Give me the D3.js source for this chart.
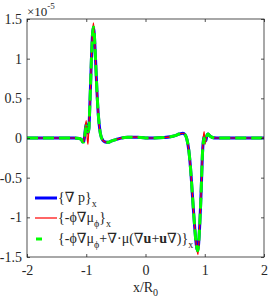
<!DOCTYPE html>
<html>
<head>
<meta charset="utf-8">
<script src="https://cdn.jsdelivr.net/npm/d3@7"></script>
<style>
  body { margin: 0; background: #fff; }
  svg text { font-family: "Liberation Serif", "Times New Roman", Times, "DejaVu Serif", serif !important; fill: #262626; }
</style>
</head>
<body>
<div id="chart"></div>
<script>
// x positions (x/R0)
const xs = [-2, -1.5, -1.2, -1.12, -1.08, -1.06, -1.04, -1.02, -1.0, -0.985, -0.97, -0.955, -0.94, -0.925,
  -0.91, -0.895, -0.88, -0.865, -0.85, -0.835, -0.82, -0.8, -0.78, -0.76, -0.72, -0.68, -0.63, -0.58,
  -0.5, -0.43, -0.3, -0.15, 0, 0.15, 0.3, 0.42, 0.5, 0.57, 0.63, 0.67, 0.7, 0.73, 0.76, 0.79, 0.81,
  0.83, 0.85, 0.87, 0.885, 0.9, 0.915, 0.93, 0.945, 0.96, 0.975, 0.99, 1.005, 1.02, 1.04, 1.06, 1.08,
  1.12, 1.2, 1.5, 2];
// values in units of 1e-5
const gradP = [0, 0, 0, -0.005, -0.02, -0.05, -0.04, 0.08, 0.18, 0.1, 0.06, 0.12, 0.4, 0.72,
  1.05, 1.3, 1.4, 1.32, 1.1, 0.85, 0.6, 0.33, 0.16, 0.05, -0.03, -0.05, -0.055, -0.04,
  -0.02, -0.005, 0.01, 0.01, 0, 0, 0.005, 0.015, 0.03, 0.05, 0.06, 0.04, -0.02, -0.15, -0.38, -0.7, -0.92,
  -1.12, -1.3, -1.4, -1.42, -1.3, -1.1, -0.85, -0.55, -0.22, -0.04, 0.02, -0.04, -0.03, 0.04, 0.05, 0.03,
  0.01, 0, 0, 0];
const phiGradMu = [0, 0, 0, -0.005, -0.02, -0.05, -0.03, 0.12, 0.22, 0.0, -0.08, 0.15, 0.4, 0.72,
  1.05, 1.32, 1.45, 1.34, 1.1, 0.85, 0.6, 0.33, 0.16, 0.05, -0.03, -0.05, -0.055, -0.04,
  -0.02, -0.005, 0.01, 0.01, 0, 0, 0.005, 0.015, 0.03, 0.05, 0.06, 0.04, -0.02, -0.15, -0.38, -0.7, -0.92,
  -1.12, -1.3, -1.42, -1.47, -1.32, -1.1, -0.85, -0.55, -0.22, 0.0, 0.08, -0.08, -0.02, 0.04, 0.05, 0.03,
  0.01, 0, 0, 0];
const phiGradMuVisc = [0, 0, 0, -0.005, -0.02, -0.05, -0.05, 0.06, 0.15, 0.1, 0.08, 0.12, 0.4, 0.72,
  1.05, 1.3, 1.4, 1.32, 1.1, 0.85, 0.6, 0.33, 0.16, 0.05, -0.03, -0.05, -0.055, -0.04,
  -0.02, -0.005, 0.01, 0.01, 0, 0, 0.005, 0.015, 0.03, 0.05, 0.06, 0.04, -0.02, -0.15, -0.38, -0.7, -0.92,
  -1.12, -1.3, -1.4, -1.42, -1.3, -1.1, -0.85, -0.55, -0.22, -0.06, 0.0, -0.05, -0.03, 0.04, 0.05, 0.03,
  0.01, 0, 0, 0];
const xTicks = [-2, -1, 0, 1, 2];
const yTicks = [-1.5, -1, -0.5, 0, 0.5, 1, 1.5];

const W = 269, H = 300;
const margin = { top: 19, right: 5, bottom: 43, left: 27 };
const width = W - margin.left - margin.right;
const height = H - margin.top - margin.bottom;
const axisColor = "#262626";
const serif = "Liberation Serif, Times New Roman, serif";
const fs = 14;

const svg = d3.select("#chart").append("svg")
  .attr("width", W)
  .attr("height", H)
  .attr("font-family", serif);
const g = svg.append("g")
  .attr("transform", "translate(" + margin.left + "," + margin.top + ")");

const x = d3.scaleLinear().domain([-2, 2]).range([0, width]);
const y = d3.scaleLinear().domain([-1.5, 1.5]).range([height, 0]);

// lines
const line = (vals) => d3.line()
  .x((d, i) => x(xs[i]))
  .y(d => y(d))
  .curve(d3.curveMonotoneX)(vals);

const plot = g.append("g");
plot.append("path").attr("d", line(gradP))
  .attr("fill", "none").attr("stroke", "#0000ff").attr("stroke-width", 3);
plot.append("path").attr("d", line(phiGradMu))
  .attr("fill", "none").attr("stroke", "#ff0000").attr("stroke-width", 1.2);
plot.append("path").attr("d", line(phiGradMuVisc))
  .attr("fill", "none").attr("stroke", "#00ff00").attr("stroke-width", 3)
  .attr("stroke-dasharray", "11,5");

// axes (box with inward ticks)
const tickLen = 3;
const styleAxis = (sel) => {
  sel.attr("font-family", serif).attr("font-size", fs);
  sel.select(".domain").remove();
  sel.selectAll("line").attr("stroke", axisColor).attr("stroke-width", 0.8);
  sel.selectAll("text").attr("fill", axisColor);
};
const fmt = d => String(d);
g.append("g").attr("transform", "translate(0," + height + ")")
  .call(d3.axisBottom(x).tickValues(xTicks).tickSize(-tickLen).tickPadding(8).tickFormat(fmt))
  .call(styleAxis);
g.append("g")
  .call(d3.axisTop(x).tickValues(xTicks).tickSize(-tickLen).tickFormat(""))
  .call(styleAxis);
g.append("g")
  .call(d3.axisLeft(y).tickValues(yTicks).tickSize(-tickLen).tickPadding(5).tickFormat(fmt))
  .call(styleAxis);
g.append("g").attr("transform", "translate(" + width + ",0)")
  .call(d3.axisRight(y).tickValues(yTicks).tickSize(-tickLen).tickFormat(""))
  .call(styleAxis);
g.append("rect").attr("width", width).attr("height", height)
  .attr("fill", "none").attr("stroke", axisColor).attr("stroke-width", 0.8);

// exponent label
const expo = svg.append("text").attr("x", margin.left).attr("y", 16).attr("font-size", 13);
expo.append("tspan").text("\u00d710");
expo.append("tspan").attr("dy", -7).attr("font-size", 9).text("-5");

// x axis label
const xl = svg.append("text").attr("x", margin.left + width / 2).attr("y", 292)
  .attr("text-anchor", "middle").attr("font-size", fs);
xl.append("tspan").text("x/R");
xl.append("tspan").attr("dy", 4).attr("font-size", 10).text("0");

// legend
const legend = svg.append("g");
const lx0 = 35, lx1 = 57, tx = 58;
const rows = [198, 218, 239];
legend.append("line").attr("x1", lx0).attr("x2", lx1).attr("y1", rows[0]).attr("y2", rows[0])
  .attr("stroke", "#0000ff").attr("stroke-width", 3);
legend.append("line").attr("x1", lx0).attr("x2", lx1).attr("y1", rows[1]).attr("y2", rows[1])
  .attr("stroke", "#ff0000").attr("stroke-width", 1.2);
legend.append("line").attr("x1", 36).attr("x2", 42).attr("y1", rows[2]).attr("y2", rows[2])
  .attr("stroke", "#00ff00").attr("stroke-width", 3);

const t1 = legend.append("text").attr("x", tx).attr("y", rows[0] + 4).attr("font-size", fs);
t1.append("tspan").text("{\u2207 p}");
t1.append("tspan").attr("dy", 5).attr("font-size", 10).text("x");

const t2 = legend.append("text").attr("x", tx).attr("y", rows[1] + 4).attr("font-size", fs);
t2.append("tspan").text("{-\u03d5\u2207\u03bc");
t2.append("tspan").attr("dy", 5).attr("font-size", 10).text("\u03d5");
t2.append("tspan").attr("dy", -5).text("}");
t2.append("tspan").attr("dy", 5).attr("font-size", 10).text("x");

const t3 = legend.append("text").attr("x", tx).attr("y", rows[2] + 4).attr("font-size", fs);
t3.append("tspan").text("{-\u03d5\u2207\u03bc");
t3.append("tspan").attr("dy", 5).attr("font-size", 10).text("\u03d5");
t3.append("tspan").attr("dy", -5).text("+\u2207\u00b7\u03bc(\u2207");
t3.append("tspan").attr("font-weight", "bold").text("u");
t3.append("tspan").text("+");
t3.append("tspan").attr("font-weight", "bold").text("u");
t3.append("tspan").text("\u2207)}");
t3.append("tspan").attr("dy", 5).attr("font-size", 10).text("x");
</script>
</body>
</html>
